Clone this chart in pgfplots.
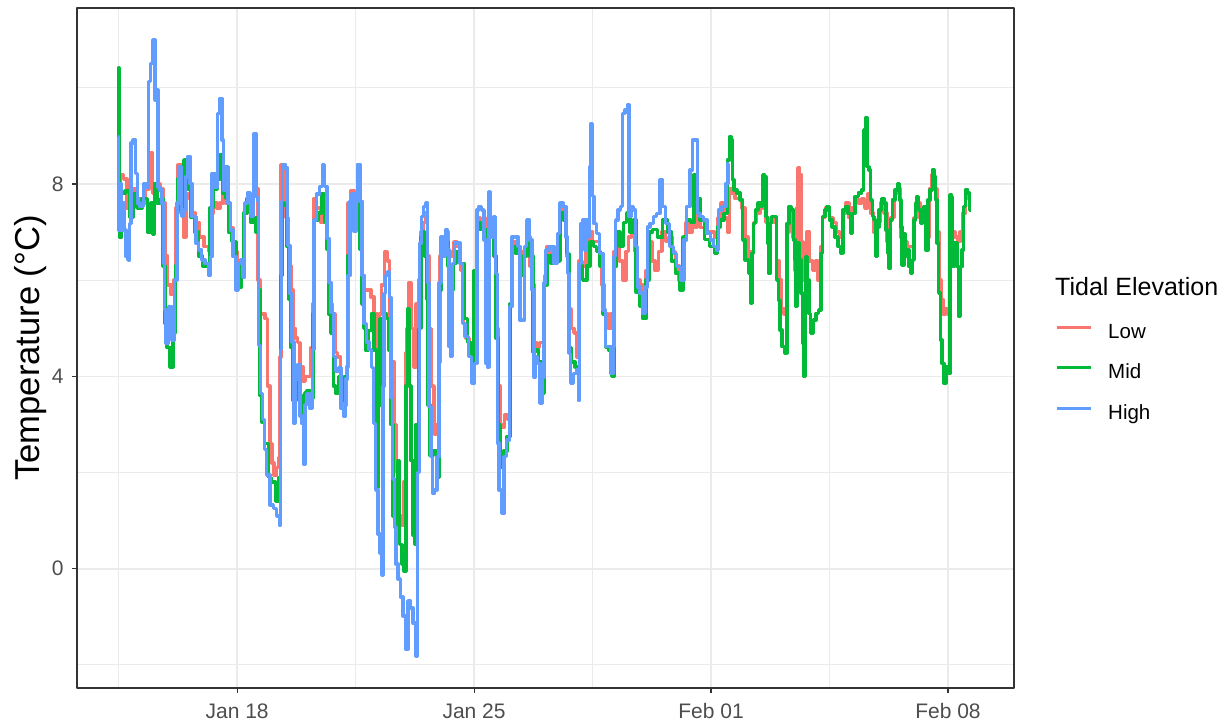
\documentclass[border=0pt]{standalone}
\usepackage{pgfplots}
\pgfplotsset{compat=1.18}
\usepackage{fontspec}
\setmainfont{Liberation Sans}
\definecolor{lowc}{HTML}{F8766D}
\definecolor{midc}{HTML}{00BA38}
\definecolor{highc}{HTML}{619CFF}
\definecolor{gridc}{HTML}{EBEBEB}
\definecolor{axc}{HTML}{333333}
\definecolor{tickc}{HTML}{4D4D4D}
\begin{document}
\begin{tikzpicture}
\useasboundingbox (0,0) rectangle (614pt,362.5pt);
\begin{axis}[
  at={(38.5pt,18.5pt)}, anchor=south west,
  scale only axis, width=468.5pt, height=340pt,
  xmin=13.27, xmax=40.95, ymin=-2.48, ymax=11.66,
  xtick={18,25,32,39}, xticklabels={Jan 18,Jan 25,Feb 01,Feb 08},
  minor xtick={14.5,21.5,28.5,35.5},
  ytick={0,4,8}, minor ytick={-2,2,6,10},
  grid=both,
  major grid style={gridc, line width=0.8pt},
  minor grid style={gridc, line width=0.45pt},
  axis line style={axc, line width=0.55pt},
  tick align=outside, major tick length=2.5pt, minor tick length=0pt,
  tick style={axc, line width=0.55pt},
  tick pos=left,
  tick label style={font=\fontsize{10.5}{12}\selectfont, text=tickc},
  /pgf/number format/assume math mode=true,
  xticklabel style={anchor=base, inner sep=0pt, yshift=-12.5pt},
  yticklabel style={anchor=east, inner sep=0pt, xshift=-4pt},
  ylabel={Temperature (°C)},
  ylabel style={font=\fontsize{17.3}{20}\selectfont, at={(rel axis cs:-0.0495,0.5)}, anchor=center},
  legend cell align=left,
  legend style={at={(rel axis cs:1.0440,0.5963)}, anchor=north west, draw=none, fill=none,
    inner sep=0pt, outer sep=0pt, row sep=10.55pt, column sep=8pt,
    font=\fontsize{10.25}{12}\selectfont,
    nodes={inner sep=0pt, text height=7.5pt, text depth=2.2pt}},
  legend image code/.code={\draw[#1, line width=1.5pt] (0pt,2.85pt) -- (17pt,2.85pt);},
  line join=round,
]
\addlegendimage{empty legend}
\addlegendentry{\hspace*{-26.5pt}\raisebox{1.25pt}{\fontsize{12.5}{14}\selectfont Tidal Elevation}}

\addplot[lowc, line width=1.75pt, line join=round, const plot mark mid] coordinates {
(14.49,7.60) (14.52,7.90) (14.60,8.20) (14.70,8.10) (14.78,7.50) (14.85,7.80) (14.95,7.90) (15.05,7.70)
(15.20,7.60) (15.35,7.90) (15.45,8.64) (15.55,7.80) (15.65,8.00) (15.78,7.90) (15.85,7.60) (15.90,6.50)
(16.00,5.90) (16.10,5.70) (16.17,6.00) (16.22,7.50) (16.30,8.40) (16.38,7.40) (16.45,6.90) (16.52,7.80)
(16.62,7.70) (16.70,7.40) (16.80,7.20) (16.95,6.90) (17.10,6.70) (17.20,6.60) (17.25,7.40) (17.35,7.60)
(17.45,7.50) (17.55,7.60) (17.62,7.90) (17.72,7.60) (17.85,7.10) (17.95,6.60) (18.05,6.30) (18.15,6.30)
(18.25,7.40) (18.35,7.80) (18.45,7.40) (18.53,8.10) (18.60,7.90) (18.64,6.00) (18.70,5.30) (18.80,5.30)
(18.86,5.20) (18.93,3.80) (19.00,2.60) (19.05,2.20) (19.12,1.95) (19.20,2.10) (19.25,2.30) (19.29,4.40)
(19.31,8.40) (19.40,8.30) (19.50,7.30) (19.55,6.30) (19.62,5.80) (19.68,5.00) (19.75,4.80) (19.82,4.70)
(19.90,4.20) (19.98,3.90) (20.05,4.00) (20.15,4.00) (20.20,4.60) (20.25,5.50) (20.30,7.70) (20.40,7.50)
(20.55,7.20) (20.62,7.60) (20.68,6.80) (20.75,5.50) (20.85,5.30) (20.92,4.50) (21.02,4.40) (21.10,4.00)
(21.20,3.40) (21.26,4.20) (21.30,7.60) (21.40,7.87) (21.50,7.50) (21.58,7.80) (21.65,7.00) (21.72,6.00)
(21.80,5.80) (21.90,5.80) (22.00,5.65) (22.10,5.30) (22.18,4.40) (22.22,5.30) (22.30,5.90) (22.40,6.60)
(22.48,6.40) (22.53,5.00) (22.60,4.30) (22.68,3.00) (22.75,2.00) (22.82,1.10) (22.88,0.90) (22.95,1.80)
(23.00,4.50) (23.05,5.00) (23.11,5.95) (23.18,5.00) (23.25,4.20) (23.32,5.50) (23.40,6.00) (23.45,7.00)
(23.52,7.20) (23.60,7.40) (23.65,6.50) (23.70,5.00) (23.78,3.80) (23.85,2.80) (23.92,3.00) (23.98,4.30)
(24.02,6.50) (24.10,6.80) (24.20,7.00) (24.28,6.60) (24.35,6.50) (24.45,6.80) (24.55,6.70) (24.65,6.20)
(24.72,5.10) (24.80,4.80) (24.90,4.60) (24.97,4.30) (25.05,5.50) (25.12,7.30) (25.25,7.20) (25.35,7.00)
(25.45,7.30) (25.55,7.00) (25.62,6.50) (25.67,5.00) (25.74,3.80) (25.80,3.00) (25.85,2.95) (25.95,3.20)
(26.05,3.10) (26.10,5.50) (26.17,6.80) (26.30,6.60) (26.40,6.30) (26.50,6.60) (26.60,6.90) (26.70,6.30)
(26.76,5.90) (26.82,4.70) (26.90,4.60) (26.98,4.70) (27.05,4.70) (27.10,6.10) (27.20,6.70) (27.35,6.50)
(27.45,6.50) (27.52,6.90) (27.60,7.50) (27.70,7.40) (27.76,6.50) (27.82,5.40) (27.90,5.00) (28.00,4.90)
(28.08,4.40) (28.13,6.40) (28.25,6.30) (28.35,6.60) (28.45,7.00) (28.55,6.80) (28.65,6.80) (28.75,6.40)
(28.82,5.90) (28.90,5.30) (29.00,5.00) (29.10,5.30) (29.16,6.60) (29.25,6.90) (29.35,6.40) (29.45,6.00)
(29.52,6.60) (29.60,6.90) (29.70,7.00) (29.78,6.60) (29.85,6.00) (29.95,5.90) (30.05,5.60) (30.12,6.20)
(30.20,6.80) (30.30,6.40) (30.40,6.20) (30.50,6.60) (30.60,7.00) (30.70,6.80) (30.80,6.90) (30.90,6.60)
(31.00,6.30) (31.10,6.00) (31.20,6.80) (31.30,7.20) (31.40,7.00) (31.48,7.20) (31.55,7.10) (31.62,7.40)
(31.72,7.10) (31.85,7.10) (31.95,7.00) (32.05,7.00) (32.15,6.90) (32.25,7.30) (32.35,7.60) (32.45,7.30)
(32.52,7.00) (32.58,7.90) (32.66,7.80) (32.75,7.70) (32.85,7.70) (32.95,7.50) (33.05,6.90) (33.15,6.40)
(33.22,6.60) (33.30,7.20) (33.40,7.40) (33.50,7.50) (33.58,7.60) (33.65,7.20) (33.72,6.90) (33.80,7.30)
(33.90,7.20) (33.96,6.40) (34.05,6.00) (34.12,5.40) (34.20,5.30) (34.25,7.00) (34.35,7.40) (34.45,6.90)
(34.52,6.20) (34.55,7.50) (34.60,8.33) (34.64,8.20) (34.68,6.80) (34.74,6.00) (34.80,6.50) (34.87,7.00)
(34.95,6.40) (35.05,6.20) (35.12,6.40) (35.20,6.00) (35.26,6.70) (35.32,7.30) (35.45,7.50) (35.55,7.30)
(35.65,7.20) (35.75,7.00) (35.85,6.90) (35.93,7.40) (36.02,7.60) (36.12,7.30) (36.20,7.50) (36.30,7.70)
(36.40,7.60) (36.50,7.70) (36.58,7.50) (36.66,7.80) (36.75,7.40) (36.85,7.00) (36.95,7.20) (37.05,7.60)
(37.15,7.40) (37.25,6.80) (37.35,7.30) (37.48,7.80) (37.55,7.90) (37.65,6.90) (37.75,6.80) (37.85,6.70)
(37.95,6.70) (38.05,7.30) (38.12,7.60) (38.22,7.30) (38.32,7.50) (38.40,6.90) (38.50,7.90) (38.56,8.20)
(38.64,7.90) (38.70,7.00) (38.76,6.00) (38.82,5.60) (38.88,5.30) (38.95,5.40) (39.04,5.30) (39.08,7.50)
(39.15,7.00) (39.25,6.90) (39.32,6.80) (39.40,7.00) (39.48,7.40) (39.55,7.80) (39.62,7.70) (39.66,7.50)
};
\addlegendentry{Low}

\addplot[midc, line width=1.75pt, line join=round, const plot mark mid] coordinates {
(14.49,7.90) (14.50,10.41) (14.51,7.20) (14.54,6.90) (14.64,7.80) (14.74,7.85) (14.89,7.30) (14.99,7.80)
(15.09,7.50) (15.28,7.70) (15.43,7.00) (15.48,7.60) (15.53,6.95) (15.58,8.00) (15.68,7.60) (15.78,7.70)
(15.85,6.30) (15.89,5.10) (15.97,4.60) (16.07,4.20) (16.15,4.90) (16.20,6.30) (16.27,8.10) (16.38,7.45)
(16.48,8.50) (16.61,7.90) (16.68,7.30) (16.81,7.00) (16.91,6.50) (17.05,6.30) (17.17,6.35) (17.23,7.50)
(17.35,7.90) (17.45,8.10) (17.55,8.60) (17.62,7.80) (17.70,7.70) (17.79,7.00) (17.89,6.80) (18.04,6.30)
(18.09,5.86) (18.16,6.35) (18.24,7.40) (18.35,7.70) (18.48,7.20) (18.53,7.30) (18.58,7.00) (18.62,7.20)
(18.64,5.80) (18.71,3.60) (18.75,3.05) (18.88,2.60) (18.97,1.90) (19.07,1.80) (19.20,1.40) (19.26,1.90)
(19.30,6.10) (19.34,7.60) (19.42,7.55) (19.52,6.70) (19.56,5.60) (19.61,4.60) (19.69,3.50) (19.79,4.10)
(19.86,3.60) (19.96,3.20) (20.03,3.65) (20.11,3.70) (20.21,3.55) (20.26,5.30) (20.32,7.25) (20.45,7.40)
(20.55,7.80) (20.62,7.20) (20.68,6.65) (20.72,5.30) (20.81,4.90) (20.87,3.80) (20.94,3.65) (21.04,4.00)
(21.14,3.50) (21.24,4.00) (21.28,6.50) (21.37,7.40) (21.46,7.25) (21.53,7.60) (21.60,7.40) (21.66,6.65)
(21.70,5.50) (21.76,5.00) (21.83,4.55) (21.93,4.95) (22.00,5.30) (22.08,4.55) (22.16,1.70) (22.19,3.40)
(22.25,5.20) (22.32,5.00) (22.39,5.30) (22.45,5.20) (22.52,4.55) (22.57,3.00) (22.64,1.10) (22.72,0.70)
(22.76,2.25) (22.84,0.50) (22.91,0.10) (22.96,-0.05) (23.01,3.80) (23.05,5.40) (23.10,3.80) (23.16,2.25)
(23.24,0.70) (23.25,0.50) (23.31,3.00) (23.40,5.00) (23.45,6.90) (23.50,7.00) (23.57,6.50) (23.61,5.60)
(23.67,3.40) (23.73,2.35) (23.83,2.45) (23.95,1.90) (24.00,5.80) (24.05,6.50) (24.19,6.80) (24.26,6.30)
(24.34,5.80) (24.43,6.35) (24.54,6.60) (24.66,6.35) (24.73,5.20) (24.88,4.70) (24.98,4.30) (25.03,6.20)
(25.11,7.20) (25.23,7.05) (25.32,6.90) (25.42,7.05) (25.54,6.95) (25.62,6.50) (25.67,4.80) (25.74,3.00)
(25.82,2.10) (25.92,2.45) (26.03,2.75) (26.09,5.50) (26.16,6.70) (26.31,6.55) (26.41,6.10) (26.51,6.50)
(26.60,6.80) (26.70,6.50) (26.78,4.50) (26.85,4.55) (26.95,4.30) (27.05,3.65) (27.10,5.90) (27.20,6.50)
(27.35,6.35) (27.49,6.40) (27.59,7.40) (27.69,7.25) (27.77,6.55) (27.83,4.60) (27.93,4.30) (28.03,4.20)
(28.10,4.20) (28.14,6.30) (28.28,6.00) (28.38,6.30) (28.48,6.80) (28.57,6.70) (28.67,6.60) (28.77,6.30)
(28.85,5.30) (28.92,4.60) (29.02,4.55) (29.11,4.00) (29.16,6.30) (29.26,7.00) (29.36,6.70) (29.46,7.20)
(29.56,7.40) (29.66,7.00) (29.75,7.25) (29.83,5.75) (29.93,5.45) (30.04,5.20) (30.12,6.00) (30.20,7.00)
(30.34,7.05) (30.49,6.90) (30.64,7.25) (30.79,7.00) (30.88,6.40) (31.02,6.15) (31.13,5.80) (31.21,6.90)
(31.33,7.25) (31.45,7.20) (31.55,8.20) (31.61,7.70) (31.73,7.25) (31.87,6.85) (32.03,6.70) (32.17,6.56)
(32.22,7.11) (32.32,7.25) (32.44,7.39) (32.52,8.50) (32.57,8.98) (32.62,8.91) (32.66,8.08) (32.71,7.88)
(32.81,7.81) (32.91,7.67) (32.96,6.84) (33.06,6.42) (33.14,6.14) (33.19,5.52) (33.24,6.56) (33.27,7.18)
(33.35,7.46) (33.43,7.60) (33.50,7.53) (33.55,8.19) (33.62,8.15) (33.64,7.32) (33.69,6.77) (33.72,6.14)
(33.76,7.18) (33.82,7.32) (33.92,7.32) (33.96,6.00) (34.02,5.59) (34.06,4.96) (34.12,4.62) (34.23,4.48)
(34.26,7.18) (34.35,7.53) (34.41,7.46) (34.46,6.84) (34.50,6.42) (34.53,5.45) (34.58,6.77) (34.63,6.42)
(34.68,5.73) (34.72,4.69) (34.77,4.00) (34.82,6.49) (34.87,6.00) (34.92,5.31) (34.97,4.90) (35.07,5.17)
(35.14,5.31) (35.22,5.38) (35.27,6.56) (35.32,7.32) (35.40,7.46) (35.46,7.53) (35.54,7.25) (35.61,7.11)
(35.71,6.90) (35.79,6.70) (35.86,6.56) (35.93,7.46) (36.01,7.53) (36.08,7.39) (36.15,6.97) (36.20,7.39)
(36.30,7.74) (36.40,7.81) (36.49,7.88) (36.53,9.12) (36.59,9.37) (36.63,8.36) (36.69,8.29) (36.74,7.67)
(36.79,7.32) (36.84,7.25) (36.89,6.49) (36.94,7.11) (36.99,7.46) (37.07,7.70) (37.14,7.60) (37.19,7.04)
(37.23,6.56) (37.28,6.25) (37.33,7.25) (37.38,7.67) (37.48,7.88) (37.55,8.01) (37.59,7.67) (37.62,7.11)
(37.67,6.32) (37.72,6.97) (37.77,6.49) (37.82,6.63) (37.87,6.28) (37.92,6.14) (37.97,6.42) (38.02,7.25)
(38.07,7.60) (38.11,7.74) (38.16,7.46) (38.21,7.18) (38.26,7.39) (38.31,7.53) (38.38,6.63) (38.44,7.67)
(38.51,7.88) (38.56,8.29) (38.61,8.15) (38.66,7.67) (38.70,6.77) (38.75,5.73) (38.80,4.76) (38.85,4.27)
(38.90,3.86) (38.97,4.20) (39.05,4.06) (39.08,7.77) (39.12,7.74) (39.15,6.28) (39.23,6.77) (39.30,6.28)
(39.35,5.24) (39.40,6.28) (39.44,6.63) (39.49,7.53) (39.54,7.88) (39.62,7.81) (39.66,7.46)
};
\addlegendentry{Mid}

\addplot[highc, line width=1.75pt, line join=round, const plot mark mid] coordinates {
(14.49,8.98) (14.50,7.04) (14.54,8.01) (14.59,7.04) (14.64,7.60) (14.69,7.04) (14.74,6.49) (14.81,6.42)
(14.84,7.18) (14.89,8.85) (14.97,8.91) (15.04,8.22) (15.07,7.60) (15.19,7.53) (15.28,8.01) (15.36,7.94)
(15.40,10.13) (15.48,10.51) (15.56,10.99) (15.60,9.75) (15.64,9.95) (15.68,7.94) (15.73,7.88) (15.82,7.60)
(15.85,6.35) (15.87,5.38) (15.92,4.69) (16.02,5.45) (16.12,4.76) (16.19,6.00) (16.25,7.60) (16.32,8.36)
(16.38,7.32) (16.44,7.46) (16.51,8.15) (16.58,8.57) (16.64,8.01) (16.68,7.32) (16.76,7.32) (16.82,6.77)
(16.91,6.63) (17.00,6.42) (17.11,6.35) (17.20,6.11) (17.23,6.49) (17.30,8.22) (17.38,7.94) (17.47,9.47)
(17.53,9.78) (17.57,8.91) (17.62,7.88) (17.70,8.36) (17.76,7.60) (17.84,7.04) (17.92,6.49) (18.01,5.80)
(18.06,6.35) (18.14,6.42) (18.19,6.07) (18.26,7.60) (18.35,7.81) (18.43,7.32) (18.53,9.05) (18.58,7.74)
(18.61,7.64) (18.65,4.64) (18.73,3.64) (18.78,3.10) (18.83,2.48) (18.92,1.95) (19.02,1.33) (19.12,1.25)
(19.22,1.10) (19.27,0.91) (19.30,4.56) (19.32,7.64) (19.37,8.41) (19.47,8.33) (19.52,6.72) (19.59,5.72)
(19.66,4.72) (19.69,3.02) (19.76,3.95) (19.83,4.25) (19.89,3.18) (19.93,3.02) (19.99,2.18) (20.03,3.41)
(20.11,3.64) (20.21,3.33) (20.25,4.56) (20.30,7.25) (20.38,7.79) (20.50,7.95) (20.55,8.41) (20.62,7.95)
(20.68,6.87) (20.75,5.95) (20.81,5.33) (20.87,4.41) (20.94,4.10) (21.04,4.18) (21.11,3.33) (21.17,3.18)
(21.24,3.95) (21.29,6.10) (21.37,7.64) (21.43,7.79) (21.48,7.02) (21.53,7.64) (21.60,8.41) (21.66,7.64)
(21.73,6.10) (21.78,5.10) (21.86,4.72) (21.93,4.56) (22.00,4.18) (22.06,3.02) (22.13,1.64) (22.19,0.72)
(22.25,0.33) (22.29,-0.13) (22.32,3.79) (22.35,5.72) (22.42,6.10) (22.47,6.18) (22.52,5.64) (22.57,3.56)
(22.62,1.87) (22.67,0.87) (22.72,0.10) (22.78,-0.21) (22.86,-0.59) (22.94,-0.98) (23.01,-1.67) (23.08,-0.67)
(23.16,-0.82) (23.24,-1.13) (23.31,-1.83) (23.36,2.00) (23.43,6.77) (23.47,7.32) (23.55,7.53) (23.61,7.60)
(23.65,5.94) (23.70,3.37) (23.75,2.33) (23.80,1.57) (23.87,1.64) (23.93,2.33) (24.00,5.94) (24.05,6.90)
(24.12,6.49) (24.19,7.04) (24.24,6.63) (24.29,4.62) (24.34,4.41) (24.39,6.35) (24.46,6.77) (24.54,6.77)
(24.64,6.35) (24.68,5.10) (24.78,4.83) (24.88,4.41) (24.98,3.86) (25.05,4.27) (25.11,7.46) (25.18,7.53)
(25.27,7.46) (25.32,6.84) (25.37,4.27) (25.42,4.20) (25.45,7.84) (25.50,7.32) (25.54,6.90) (25.60,7.32)
(25.67,6.14) (25.70,2.61) (25.77,1.64) (25.84,1.15) (25.92,2.33) (26.01,2.68) (26.09,5.45) (26.16,6.90)
(26.26,6.90) (26.33,6.70) (26.39,5.17) (26.46,5.17) (26.51,6.70) (26.60,7.25) (26.68,6.84) (26.75,5.80)
(26.78,3.99) (26.85,4.41) (26.90,4.27) (27.00,3.44) (27.05,3.99) (27.08,5.94) (27.15,6.63) (27.29,6.70)
(27.44,6.35) (27.49,6.97) (27.57,7.60) (27.69,7.53) (27.74,6.90) (27.78,6.14) (27.83,4.48) (27.88,3.86)
(27.98,4.06) (28.06,4.13) (28.10,3.51) (28.13,6.35) (28.18,7.18) (28.26,7.25) (28.30,6.63) (28.34,7.25)
(28.38,6.90) (28.43,8.36) (28.48,9.26) (28.52,7.74) (28.57,7.18) (28.65,6.97) (28.77,6.56) (28.85,5.38)
(28.92,4.62) (29.02,4.62) (29.08,4.06) (29.12,4.62) (29.16,6.49) (29.21,7.25) (29.28,7.46) (29.36,7.53)
(29.41,9.47) (29.51,9.54) (29.56,9.64) (29.60,7.32) (29.66,7.53) (29.75,7.46) (29.80,6.70) (29.85,5.86)
(29.95,5.73) (30.03,5.31) (30.10,5.86) (30.15,7.11) (30.25,7.18) (30.34,7.32) (30.44,7.39) (30.54,8.08)
(30.59,7.53) (30.72,7.18) (30.84,6.70) (30.94,6.56) (31.03,6.28) (31.18,6.00) (31.23,6.84) (31.33,7.53)
(31.43,8.29) (31.48,8.91) (31.58,8.91) (31.63,7.39) (31.73,7.32) (31.83,7.25) (31.93,6.97) (32.03,6.84)
(32.13,6.70) (32.20,6.63) (32.23,7.46) (32.42,7.53) (32.47,8.01) (32.52,8.43)
};
\addlegendentry{High}
\end{axis}
\end{tikzpicture}
\end{document}
